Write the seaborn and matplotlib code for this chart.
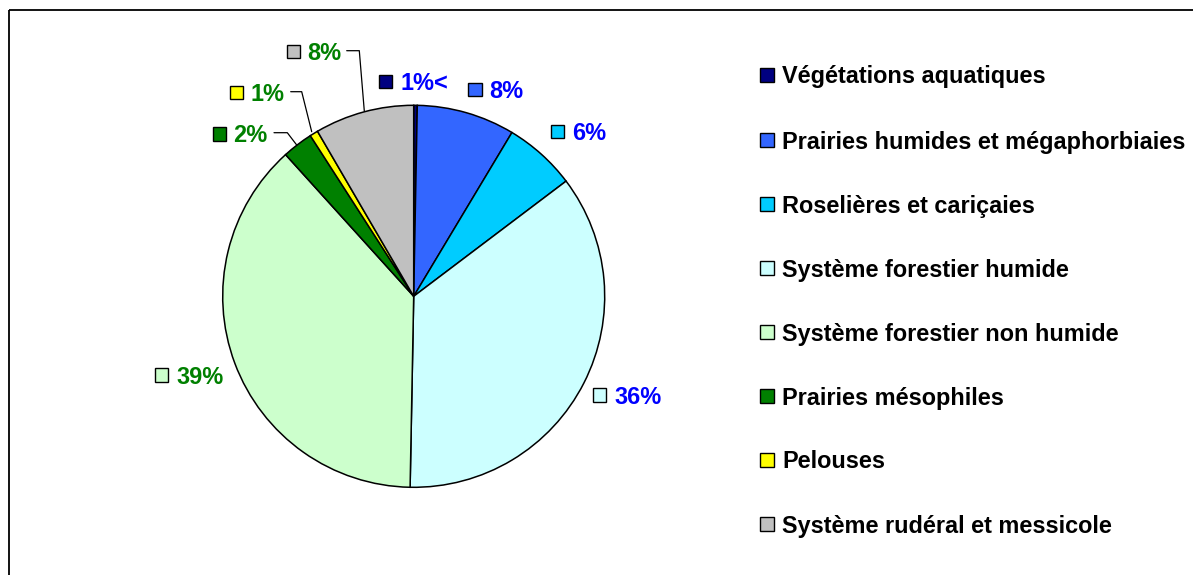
import numpy as np
import matplotlib
matplotlib.use("Agg")
import matplotlib.pyplot as plt
import matplotlib.patches as mpatches
import seaborn as sns

# Data
categories = [
    "Végétations aquatiques",
    "Prairies humides et mégaphorbiaies",
    "Roselières et cariçaies",
    "Système forestier humide",
    "Système forestier non humide",
    "Prairies mésophiles",
    "Pelouses",
    "Système rudéral et messicole",
]
shares = [0.3, 8.3, 6.1, 35.6, 38.0, 2.6, 0.7, 8.4]
pct_labels = ["1%<", "8%", "6%", "36%", "39%", "2%", "1%", "8%"]
wedge_colors = ["#000080", "#3366FF", "#00CCFF", "#CCFFFF",
                "#CCFFCC", "#008000", "#FFFF00", "#C0C0C0"]
label_colors = ["#0000FF", "#0000FF", "#0000FF", "#0000FF",
                "#008000", "#008000", "#008000", "#008000"]

sns.set_theme(style="white")
plt.rcParams["font.family"] = ["Liberation Sans", "DejaVu Sans"]

W, H = 1193, 575
fig = plt.figure(figsize=(W / 100, H / 100), dpi=100)
ax = fig.add_axes([0, 0, 1, 1])

# pixel-like coordinates, y pointing down
ax.pie(shares, colors=wedge_colors, center=(413.7, 296.3), radius=191,
       startangle=-90, counterclock=True,
       wedgeprops=dict(edgecolor="black", linewidth=1.1))
ax.set_xlim(0, W)
ax.set_ylim(H, 0)
ax.set_aspect("auto")
ax.axis("off")

# outer frame (only top and left visible)
ax.add_patch(mpatches.Rectangle((9.3, 10.3), 1300, 700, fill=False,
                                edgecolor="black", linewidth=1.3))

fs = 16.9
sq = 13.5

# percentage labels: square centre and text start
label_pos = [(385.7, 81.7, 400), (475, 89.3, 489.3), (557.3, 131.7, 571.7),
             (599.3, 395, 614), (161.7, 375, 176), (219.3, 134, 233.3),
             (236.7, 92.7, 250.7), (293.3, 51.7, 307.3)]
for (sx, sy, tx), txt, wc, lc in zip(label_pos, pct_labels, wedge_colors, label_colors):
    ax.add_patch(mpatches.Rectangle((sx - sq / 2, sy - sq / 2), sq, sq,
                                    facecolor=wc, edgecolor="black", linewidth=1))
    ax.text(tx, sy - 0.5, txt, color=lc, fontsize=fs, fontweight="bold",
            va="center_baseline", ha="left")

# leader lines
leaders = [
    [(346.7, 50.7), (359.3, 50.7), (364.3, 111)],
    [(290.7, 91.7), (301.7, 91.7), (311.7, 131.7)],
    [(274, 132.7), (287.3, 132.7), (296.7, 145)],
]
for pts in leaders:
    xs, ys = zip(*pts)
    ax.plot(xs, ys, color="black", linewidth=0.9)

# legend
leg_y = [75, 140, 204, 268, 332, 396, 460, 524]
for y, name, wc in zip(leg_y, categories, wedge_colors):
    ax.add_patch(mpatches.Rectangle((760, y - sq / 2), sq, sq,
                                    facecolor=wc, edgecolor="black", linewidth=1))
    ax.text(782, y - 0.5, name, color="black", fontsize=fs, fontweight="bold",
            va="center_baseline", ha="left")

fig.savefig("out.png", dpi=100)
